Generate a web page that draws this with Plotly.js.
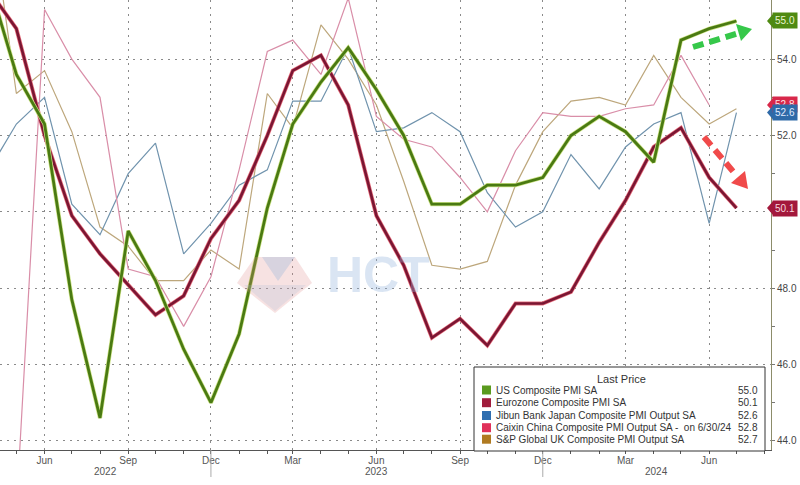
<!DOCTYPE html>
<html><head><meta charset="utf-8">
<script src="https://cdn.plot.ly/plotly-3.0.1.min.js"></script>
<style>html,body{margin:0;padding:0;background:#fff}#chart{width:800px;height:485px}</style>
</head><body><div id="chart"></div>
<script>
// ---- data ----
const months = ['2022-04-01','2022-05-01','2022-06-01','2022-07-01','2022-08-01','2022-09-01','2022-10-01','2022-11-01','2022-12-01',
  '2023-01-01','2023-02-01','2023-03-01','2023-04-01','2023-05-01','2023-06-01','2023-07-01','2023-08-01','2023-09-01','2023-10-01','2023-11-01','2023-12-01',
  '2024-01-01','2024-02-01','2024-03-01','2024-04-01','2024-05-01','2024-06-01','2024-07-01'];
const usPMI = [56.0,53.6,52.3,47.7,44.6,49.5,48.2,46.4,45.0, 46.8,50.1,52.3,53.4,54.3,53.2,52.0,50.2,50.2,50.7,50.7,50.9, 52.0,52.5,52.1,51.3,54.5,54.8,55.0];
const ezPMI = [55.8,54.8,52.0,49.9,48.9,48.1,47.3,47.8,49.3, 50.3,52.0,53.7,54.1,52.8,49.9,48.6,46.7,47.2,46.5,47.6,47.6, 47.9,49.2,50.3,51.7,52.2,50.9,50.1];
const jpPMI = [51.1,52.3,53.0,50.2,49.4,51.0,51.8,48.9,49.7, 50.7,51.1,52.9,52.9,54.3,52.1,52.2,52.6,52.1,50.5,49.6,50.0, 51.5,50.6,51.7,52.3,52.6,49.7,52.6];
const cnPMI = [37.2,42.2,55.3,54.0,53.0,48.5,48.3,47.0,48.3, 51.1,54.2,54.5,53.6,55.6,52.5,51.9,51.7,50.9,50.0,51.6,52.6, 52.5,52.5,52.7,52.8,54.1,52.8];
const ukPMI = [58.2,53.1,53.7,52.1,49.6,49.1,48.2,48.2,49.0, 48.5,53.1,52.2,54.9,54.0,52.8,50.8,48.6,48.5,48.7,50.7,52.1, 52.9,53.0,52.8,54.1,53.0,52.3,52.7];
const seriesNames = ['US Composite PMI SA','Eurozone Composite PMI SA','Jibun Bank Japan Composite PMI Output SA',
  'Caixin China Composite PMI Output SA -\u00a0\u00a0on 6/30/24','S&amp;P Global UK Composite PMI Output SA'];
const yTickVals = [44,46,48,50,52,54];
const yTickText = ['44.0','46.0','48.0','','52.0','54.0'];   // 50.0 is covered by the 50.1 tag in the original
const yearLabels = ['2022','2023','2024'];
const yearBounds = ['2022-04-13','2022-12-01','2023-12-01','2024-08-08'];

// ---- styling ----
const FONT = 'Liberation Sans, Arial, sans-serif';
const PW = 771, PH = 450;
const px = v => v / PW, py = v => 1 - v / PH;
const legendColors = ['#5a9a1e','#a01c3c','#2f6eb0','#e0305a','#b07a20'];

function tr(y, color, width){
  return {x: months.slice(0, y.length), y: y, type:'scatter', mode:'lines',
    line:{color:color, width:width}, hoverinfo:'skip', showlegend:false};
}
const data = [
  tr(ukPMI, '#bda77c', 1.2),
  tr(jpPMI, '#7093ad', 1.2),
  tr(cnPMI, '#d98ea8', 1.2),
  tr(ezPMI, '#e8707e', 4.0),
  tr(ezPMI, '#7a1633', 2.6),
  tr(usPMI, '#cfe58a', 4.2),
  tr(usPMI, '#4a7a12', 2.8)
];

const shapes = [];
const annotations = [];

// year separators
[yearBounds[1], yearBounds[2]].forEach(d => shapes.push({type:'line', xref:'x', yref:'paper', x0:d, x1:d, y0:0, y1:-0.06, line:{color:'#aaa', width:1}}));
// year labels
for (let i = 0; i < yearLabels.length; i++) {
  const a = new Date(yearBounds[i]).getTime(), b = new Date(yearBounds[i+1]).getTime();
  const mid = new Date((a + b) / 2).toISOString().slice(0,10);
  annotations.push({xref:'x', yref:'paper', x:mid, y:0, yshift:-21, yanchor:'middle', showarrow:false,
    text:yearLabels[i], font:{family:FONT, size:10, color:'#555'}});
}

// watermark
shapes.push({type:'path', xref:'paper', yref:'paper', layer:'above', opacity:0.25,
  path:`M ${px(255)} ${py(257)} L ${px(295)} ${py(257)} L ${px(312)} ${py(283)} L ${px(275)} ${py(313)} L ${px(237)} ${py(283)} Z`,
  fillcolor:'#e08a8a', line:{width:0}});
shapes.push({type:'path', xref:'paper', yref:'paper', layer:'above', opacity:0.3,
  path:`M ${px(262)} ${py(257)} L ${px(295)} ${py(257)} L ${px(278)} ${py(281)} Z`,
  fillcolor:'#8fb0d8', line:{width:0}});
shapes.push({type:'path', xref:'paper', yref:'paper', layer:'above', opacity:0.22,
  path:`M ${px(244)} ${py(285)} L ${px(306)} ${py(285)} L ${px(275)} ${py(311)} Z`,
  fillcolor:'#a8bcd8', line:{width:0}});
annotations.push({xref:'paper', yref:'paper', x:px(378), y:py(275), xanchor:'center', yanchor:'middle', showarrow:false,
  text:'<b>HCT</b>', font:{family:FONT, size:50, color:'rgba(150,180,220,0.35)'}});

// arrows
shapes.push({type:'line', xref:'paper', yref:'paper', layer:'above', x0:px(693), y0:py(47), x1:px(739), y1:py(33),
  line:{color:'#36c84a', width:6, dash:'11px,6px'}});
shapes.push({type:'path', xref:'paper', yref:'paper', layer:'above', fillcolor:'#36c84a', line:{width:0},
  path:`M ${px(752)} ${py(29)} L ${px(741)} ${py(41)} L ${px(736)} ${py(24)} Z`});
shapes.push({type:'line', xref:'paper', yref:'paper', layer:'above', x0:px(704), y0:py(137), x1:px(736), y1:py(175),
  line:{color:'#f04a4a', width:6, dash:'11px,6px'}});
shapes.push({type:'path', xref:'paper', yref:'paper', layer:'above', fillcolor:'#f04a4a', line:{width:0},
  path:`M ${px(748)} ${py(189)} L ${px(731)} ${py(183)} L ${px(745)} ${py(171)} Z`});

// right-axis last value tags
const tags = [
  {v: usPMI[usPMI.length-1], bg:'#4f8a12', fc:'#eaf6d0'},
  {v: cnPMI[cnPMI.length-1], bg:'#d8284a', fc:'#ffe0e6'},
  {v: jpPMI[jpPMI.length-1], bg:'#2f6aa8', fc:'#e0ecff'},
  {v: ezPMI[ezPMI.length-1], bg:'#a3183c', fc:'#f6d6de'}
];
tags.forEach(t => {
  shapes.push({type:'path', xref:'paper', yref:'y', layer:'above', fillcolor:t.bg, line:{width:0},
    path:`M ${px(773)} ${t.v + 0.18} L ${px(767)} ${t.v} L ${px(773)} ${t.v - 0.18} Z`});
  annotations.push({xref:'paper', yref:'y', x:1, y:t.v, xanchor:'left', yanchor:'middle', xshift:1,
    showarrow:false, text:t.v.toFixed(1), bgcolor:t.bg, borderpad:2, font:{family:FONT, size:10, color:t.fc}});
});

// custom legend
shapes.push({type:'rect', xref:'paper', yref:'paper', layer:'above', x0:px(474), x1:px(765), y0:py(451), y1:py(367),
  fillcolor:'#fff', line:{color:'#333', width:1}});
annotations.push({xref:'paper', yref:'paper', x:px(621), y:py(379), xanchor:'center', yanchor:'middle', showarrow:false,
  text:'Last Price', font:{family:FONT, size:11, color:'#333'}});
const allSeries = [usPMI, ezPMI, jpPMI, cnPMI, ukPMI];
const rowY = [390, 402.7, 415.5, 427.7, 439.2];
allSeries.forEach((s, i) => {
  const cy = rowY[i];
  shapes.push({type:'rect', xref:'paper', yref:'paper', layer:'above', x0:px(482), x1:px(491), y0:py(cy+4.5), y1:py(cy-4.5),
    fillcolor:legendColors[i], line:{width:0}});
  annotations.push({xref:'paper', yref:'paper', x:px(494), y:py(cy), xanchor:'left', yanchor:'middle', showarrow:false,
    text:seriesNames[i], font:{family:FONT, size:10, color:'#333'}});
  annotations.push({xref:'paper', yref:'paper', x:px(760), y:py(cy), xanchor:'right', yanchor:'middle', showarrow:false,
    text:s[s.length-1].toFixed(1), font:{family:FONT, size:10, color:'#333'}});
});

const layout = {
  width:800, height:485,
  margin:{l:0, r:29, t:0, b:35, pad:0},
  paper_bgcolor:'#fff', plot_bgcolor:'#fff',
  showlegend:false,
  font:{family:FONT, size:10, color:'#555'},
  xaxis:{type:'date', range:[yearBounds[0], yearBounds[3]], tick0:'2022-03-01', dtick:'M3', tickformat:'%b',
    ticks:'outside', ticklen:3, tickcolor:'#555', showline:true, linecolor:'#555', linewidth:1,
    showgrid:true, gridcolor:'#8a8a8a', griddash:'2px,5px', gridwidth:1, zeroline:false, ticklabelstandoff:-2,
    tickfont:{family:FONT, size:10, color:'#555'},
    minor:{dtick:'M1', tick0:'2022-01-01', ticks:'outside', ticklen:3, tickcolor:'#555', showgrid:false}},
  yaxis:{side:'right', range:[43.76, 55.55], tickmode:'array', tickvals:yTickVals, ticktext:yTickText,
    ticks:'outside', ticklen:3, tickcolor:'#777', showline:true, linecolor:'#8c8c6a', linewidth:1,
    showgrid:true, gridcolor:'#8a8a8a', griddash:'2px,5px', gridwidth:1, zeroline:false,
    tickfont:{family:FONT, size:10, color:'#444'},
    minor:{tickmode:'linear', dtick:1, tick0:44, ticks:'outside', ticklen:3, tickcolor:'#777', showgrid:false}},
  shapes:shapes,
  annotations:annotations
};
Plotly.newPlot('chart', data, layout, {displayModeBar:false, staticPlot:true});
</script></body></html>
